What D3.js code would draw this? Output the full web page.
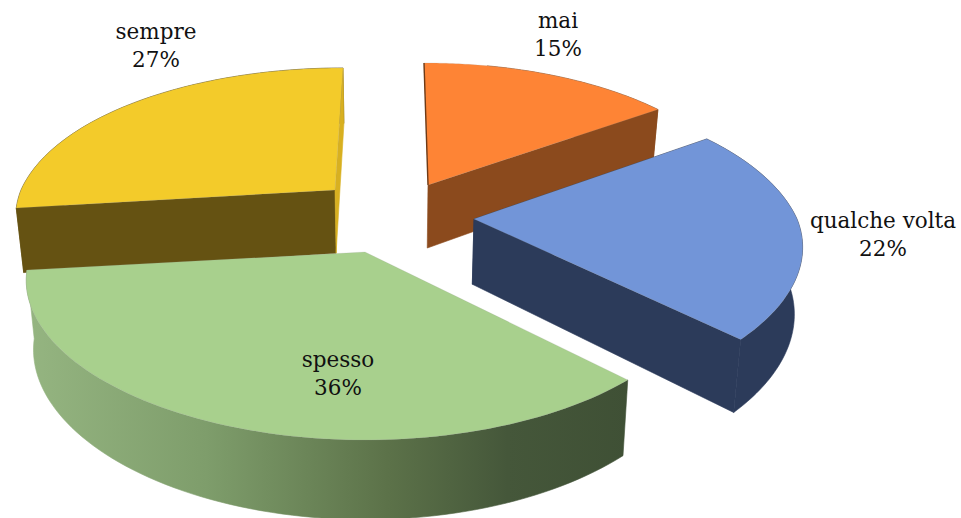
<!DOCTYPE html>
<html>
<head>
<meta charset="utf-8">
<script src="https://cdn.jsdelivr.net/npm/d3@7"></script>
<style>
html,body{margin:0;padding:0;background:#fff;overflow:hidden}
svg{display:block}
text{font-family:"DejaVu Serif",serif;font-size:21.5px;fill:#111;text-anchor:middle}
</style>
</head>
<body>
<svg id="c" width="961" height="518"></svg>
<script>
const categories = ["mai", "qualche volta", "spesso", "sempre"];
const percentLabels = ["15%", "22%", "36%", "27%"];
const values = [15.3, 21.9, 35.9, 26.9];
const topColors = ["#FE8435", "#7295D8", "#A8D08D", "#F3CB2A"];
const wallColors = ["#8B4A1D", "#2C3B5A", "url(#greenWall)", "#655212"];
const edgeColors = ["#6e3a16", "#2C3B5A", "#8aa874", "#D8B020"];

// projection layout of each exploded slice
const apexX = [428, 474, 365, 335];
const apexY = [185, 219, 252, 190];
const radiusX = [313, 323, 333, 314];
const lean = [-4, -12, 0, 8];
const backScale = [1, 1.06, 1, 1];
const startTweak = [0, 0, 3, 0];   // degrees, foreshortening of the front corner
const labelX = [558, 883, 338, 156];
const labelY = [28, 228, 367, 39];
const drawOrder = [3, 0, 1, 2];

const RY = 148, P = 0.2126, Q = 0.184, VX = 390;

const svg = d3.select("#c");
const grad = svg.append("defs").append("linearGradient")
  .attr("id", "greenWall").attr("gradientUnits", "userSpaceOnUse")
  .attr("x1", 27).attr("x2", 628).attr("y1", 0).attr("y2", 0);
[[0, "#95B581"], [0.3, "#7E9D6B"], [0.6, "#5C7249"], [0.8, "#45573A"], [1, "#3F5035"]]
  .forEach(s => grad.append("stop").attr("offset", s[0]).attr("stop-color", s[1]));

const arcs = d3.pie().sort(null).startAngle(0).endAngle(2 * Math.PI)(values);
const line = d3.line();
const closed = pts => line(pts) + "Z";

function project(i, a) {
  const u = Math.sin(a), v = Math.cos(a);
  return [
    apexX[i] + radiusX[i] * u / (1 + Q * v) + lean[i] * Math.max(v, 0),
    apexY[i] - RY * v / (1 + P * v) * (v > 0 ? backScale[i] : 1)
  ];
}
function drop(p) {
  return [p[0] + (VX - p[0]) * 0.02, p[1] + 51 + 0.065 * p[1]];
}

drawOrder.forEach(i => {
  const d = arcs[i];
  const n = 80;
  const a0 = d.startAngle + startTweak[i] * Math.PI / 180;
  const rim = d3.range(n + 1).map(k => project(i, a0 + (d.endAngle - a0) * k / n));
  const rimLow = rim.map(drop);
  const apex = [apexX[i], apexY[i]];
  const apexLow = drop(apex);
  const g = svg.append("g");

  // outer wall (the hidden start of the orange wall is left out)
  const from = i === 0 ? 20 : 0;
  g.append("path")
    .attr("d", closed(rim.slice(from).concat(rimLow.slice(from).reverse())))
    .attr("fill", wallColors[i]).attr("stroke", wallColors[i]).attr("stroke-width", 0.6);
  // inner walls
  const walls = [
    { show: i === 1 || i === 3, t: rim[0], b: rimLow[0], col: wallColors[i] },
    { show: i !== 2, t: rim[n], b: rimLow[n], col: i === 3 ? edgeColors[3] : wallColors[i] }
  ];
  walls.filter(w => w.show).forEach(w => {
    g.append("path")
      .attr("d", closed([apex, w.t, w.b, apexLow]))
      .attr("fill", w.col).attr("stroke", w.col).attr("stroke-width", 0.6);
  });
  // top face
  g.append("path")
    .attr("d", closed([apex].concat(rim)))
    .attr("fill", topColors[i])
    .attr("stroke", "#999").attr("stroke-opacity", 0.22).attr("stroke-width", 0.8);
  if (i === 0) {
    g.append("path").attr("d", line([apex, rim[0]]))
      .attr("stroke", edgeColors[0]).attr("stroke-width", 1.4).attr("fill", "none");
  }
});

categories.forEach((c, i) => {
  const t = svg.append("text").attr("x", labelX[i]).attr("y", labelY[i]);
  t.append("tspan").attr("x", labelX[i]).text(c);
  t.append("tspan").attr("x", labelX[i]).attr("dy", 28).text(percentLabels[i]);
});
</script>
</body>
</html>
